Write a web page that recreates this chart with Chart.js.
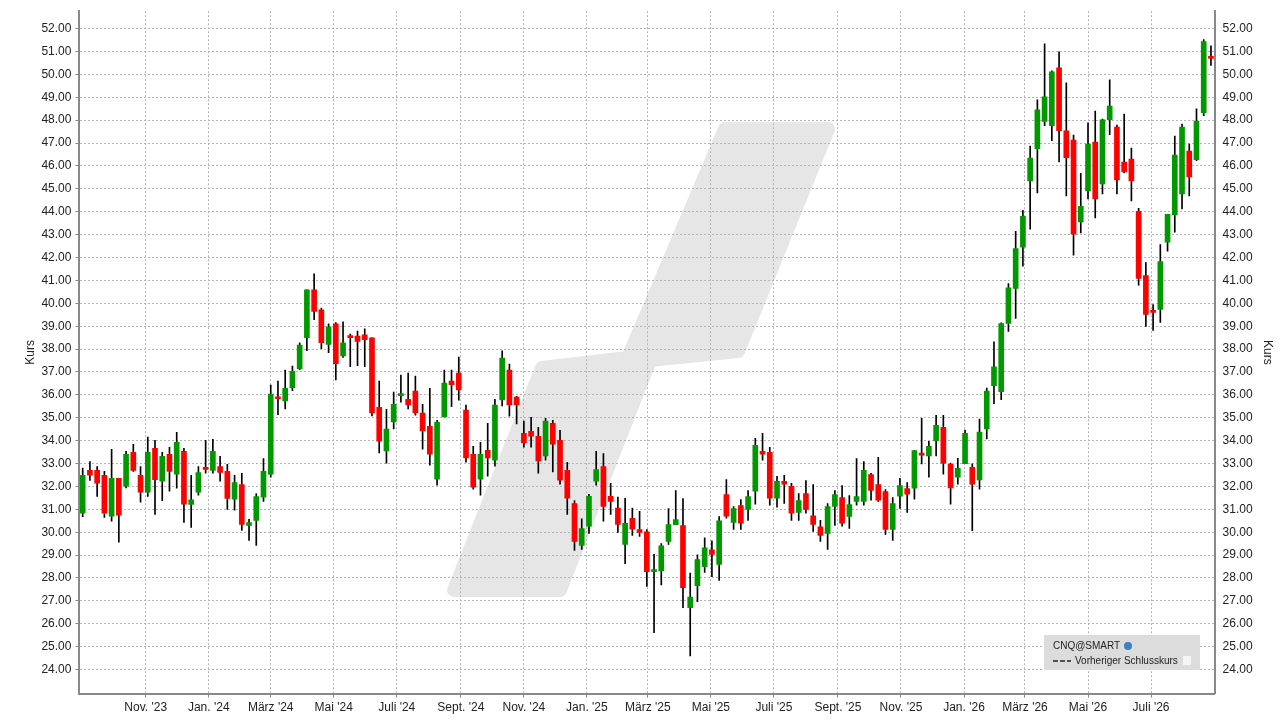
<!DOCTYPE html>
<html>
<head>
<meta charset="utf-8">
<script src="https://cdn.jsdelivr.net/npm/chart.js@4/dist/chart.umd.min.js"></script>
<style>
  html, body { margin: 0; padding: 0; background: #fff; }
  #wrap { width: 1281px; height: 720px; position: relative; }
</style>
</head>
<body>
<div id="wrap"><canvas id="chart"></canvas></div>
<script>
// weekly candles, first week starts around 2023-09-01
const startDate = '2023-09-01';

const opens = [30.83,32.70,32.70,32.48,30.70,32.35,32.01,33.49,32.48,31.75,
  33.66,32.23,33.40,32.54,33.53,31.21,31.75,32.83,32.70,32.87,
  32.66,31.44,32.08,30.30,30.52,31.53,32.54,35.90,35.74,36.31,
  37.14,38.50,40.59,39.72,38.20,39.10,37.70,38.59,38.57,38.62,
  38.49,35.46,33.55,34.82,35.97,35.81,36.16,35.20,34.63,32.32,
  35.04,36.60,36.95,35.33,33.40,32.32,33.58,33.15,35.78,37.08,
  35.90,34.32,34.41,34.19,33.33,34.76,34.01,32.70,31.25,29.42,
  30.26,32.23,32.87,31.57,31.05,29.47,30.61,30.11,30.02,28.28,
  28.31,29.60,30.33,30.29,26.70,27.67,28.50,29.23,28.59,31.64,
  30.43,31.16,31.00,31.79,33.53,33.49,31.49,32.22,32.00,30.87,
  31.69,30.72,30.24,29.95,31.13,31.51,30.69,31.35,31.35,32.52,
  32.08,31.78,30.12,31.57,31.91,31.92,33.44,33.33,34.00,34.58,
  32.96,32.41,32.99,32.83,32.28,34.51,36.40,36.14,39.12,40.65,
  42.45,45.35,46.75,47.94,47.76,50.29,47.53,47.13,43.55,44.91,
  47.04,45.22,48.02,47.70,46.17,46.30,44.02,41.21,39.68,39.73,
  42.67,43.86,44.78,46.65,46.27,48.33,50.77];

const highs = [32.80,33.09,32.87,32.66,33.62,32.35,33.53,33.84,32.87,34.16,
  34.01,33.49,33.71,34.36,33.66,32.48,32.87,34.01,34.06,33.31,
  32.96,32.48,32.57,30.56,31.69,33.22,36.43,36.60,37.08,37.26,
  38.27,40.59,41.29,39.79,39.10,39.16,39.19,38.66,38.79,38.88,
  38.49,36.60,35.37,36.12,36.86,36.95,36.82,35.59,36.29,34.89,
  37.08,37.08,37.65,35.55,33.75,33.93,34.76,35.81,37.92,37.35,
  35.94,34.85,35.02,34.58,34.98,34.89,34.45,33.05,31.38,30.59,
  31.66,33.53,33.44,32.14,31.53,31.48,31.05,30.91,30.11,29.03,
  29.50,31.03,31.82,31.47,28.22,29.01,29.76,29.62,30.68,32.30,
  31.12,31.43,31.82,34.10,34.32,33.71,32.44,32.48,32.13,31.69,
  32.26,32.08,30.52,31.25,31.82,32.04,31.60,33.22,33.09,32.57,
  33.27,31.86,31.51,32.35,32.17,33.57,34.98,33.97,35.11,35.11,
  33.02,33.23,34.46,32.99,34.94,36.30,38.32,39.15,40.86,43.14,
  44.06,46.87,48.89,51.34,50.16,50.99,49.63,47.35,45.68,47.88,
  48.40,48.05,49.76,47.79,48.27,46.78,44.15,41.78,39.94,42.57,
  43.89,47.31,47.83,46.96,48.49,51.52,51.25];

const lows = [30.68,32.26,31.56,30.65,30.48,29.56,31.93,32.66,31.31,31.56,
  30.78,31.38,31.79,31.92,30.43,30.21,31.62,32.58,32.58,32.23,
  31.00,30.96,30.08,29.64,29.42,31.35,32.41,35.13,35.39,36.18,
  37.10,37.93,39.29,38.02,37.84,36.65,37.64,37.23,37.27,37.23,
  35.08,33.46,33.02,34.51,35.68,35.39,35.11,33.63,32.93,32.06,
  35.04,35.48,35.77,33.06,31.88,31.62,32.45,32.89,35.52,35.07,
  34.73,33.72,33.72,32.58,33.15,32.63,32.10,30.78,29.20,29.25,
  29.95,32.05,30.48,30.78,29.99,28.63,29.86,29.82,27.63,25.61,
  27.70,29.47,30.33,26.70,24.60,26.97,28.24,28.06,27.89,30.61,
  30.12,30.12,30.52,31.22,33.15,31.18,31.09,31.26,30.52,30.52,
  30.83,30.04,29.60,29.25,30.30,30.26,30.17,31.18,31.18,31.40,
  31.35,29.90,29.64,31.04,30.87,31.44,32.98,32.40,33.33,32.54,
  31.22,32.10,32.99,30.07,31.88,34.08,35.61,35.79,38.77,39.34,
  41.62,43.24,44.82,47.76,47.10,46.18,44.69,42.10,43.07,44.56,
  43.73,44.78,47.37,44.78,45.70,44.47,40.79,38.99,38.81,39.16,
  42.28,43.11,44.12,44.69,46.23,48.20,50.39];

const closes = [32.48,32.49,32.14,30.83,32.35,30.74,33.40,32.70,31.75,33.49,
  32.30,33.31,32.66,33.93,31.22,31.42,32.61,32.74,33.53,32.61,
  31.48,32.17,30.34,30.42,31.56,32.66,36.03,35.83,36.29,37.03,
  38.18,40.59,39.64,38.28,38.97,37.36,38.27,38.50,38.33,38.41,
  35.21,33.98,34.50,35.59,36.03,35.56,35.21,34.42,33.41,34.80,
  36.51,36.44,36.22,33.24,31.97,33.40,33.24,35.55,37.61,35.56,
  35.56,33.90,34.20,33.11,34.85,33.85,32.27,31.49,29.60,30.16,
  31.57,32.74,31.13,31.35,30.34,30.39,30.13,29.99,28.28,28.36,
  29.41,30.33,30.55,27.58,27.17,28.80,29.32,29.03,30.50,30.70,
  31.03,30.39,31.56,33.79,33.41,31.49,32.22,32.10,30.83,31.38,
  31.00,30.34,29.86,31.12,31.64,30.39,31.21,31.56,32.70,31.83,
  31.40,30.12,31.25,32.04,31.66,33.57,33.37,33.75,34.67,33.02,
  31.93,32.79,34.32,32.10,34.37,36.17,37.22,39.11,40.68,42.39,
  43.80,46.34,48.45,49.02,50.11,47.54,46.36,43.02,44.24,46.96,
  44.56,48.01,48.62,45.39,45.74,45.35,41.09,39.51,39.60,41.82,
  43.89,46.47,47.70,45.52,47.96,51.43,50.70];

const tickLabels = ["Nov. '23","Jan. '24","März '24","Mai '24","Juli '24","Sept. '24",
  "Nov. '24","Jan. '25","März '25","Mai '25","Juli '25","Sept. '25",
  "Nov. '25","Jan. '26","März '26","Mai '26","Juli '26"];
const tickDates = ['2023-11-01','2024-01-01','2024-03-01','2024-05-01','2024-07-01','2024-09-01',
  '2024-11-01','2025-01-01','2025-03-01','2025-05-01','2025-07-01','2025-09-01',
  '2025-11-01','2026-01-01','2026-03-01','2026-05-01','2026-07-01'];
const yTicks = [24,25,26,27,28,29,30,31,32,33,34,35,36,37,38,39,40,41,42,43,44,45,46,47,48,49,50,51,52];

const UP = '#009a00', DOWN = '#ff0000';
const weekOf = d => (Date.parse(d) - Date.parse(startDate)) / (7 * 86400000);
const tickPos = tickDates.map(weekOf);

const wicks = opens.map((o, i) => ({x: i, y: [lows[i], highs[i]]}));
const bodies = opens.map((o, i) => ({x: i, y: [o, closes[i]]}));
const bodyColors = opens.map((o, i) => closes[i] >= o ? UP : DOWN);

const FONT = {family: "'Liberation Sans', Arial, sans-serif", size: 12};

const yAxis = (pos) => ({
  type: 'linear', position: pos, min: 22.95, max: 52.76,
  afterBuildTicks: ax => { ax.ticks = yTicks.map(v => ({value: v})); },
  ticks: {font: FONT, color: '#222', padding: 4, callback: v => Number(v).toFixed(2)},
  grid: {display: pos === 'left', color: '#b4b4b4', tickLength: 4, tickColor: '#888'},
  border: {display: true, color: '#888', width: 2, dash: [2, 2]},
  title: {display: true, text: 'Kurs', font: FONT, color: '#222',
    padding: pos === 'left' ? {top: 0, bottom: 0} : {top: 0, bottom: 4}}
});

const decor = {
  id: 'decor',
  beforeDraw(chart) {
    const ctx = chart.ctx;
    ctx.save();
    ctx.fillStyle = '#e6e6e6';
    ctx.strokeStyle = '#e6e6e6';
    ctx.lineWidth = 14;
    ctx.lineJoin = 'round';
    ctx.beginPath();
    ctx.moveTo(454, 590); ctx.lineTo(542, 368); ctx.lineTo(628, 358);
    ctx.lineTo(725, 129); ctx.lineTo(828, 129); ctx.lineTo(738, 351);
    ctx.lineTo(650, 360); ctx.lineTo(560, 590); ctx.closePath();
    ctx.fill(); ctx.stroke();
    ctx.restore();
  },
  afterDraw(chart) {
    const ctx = chart.ctx;
    ctx.save();
    ctx.fillStyle = '#dcdcdc';
    ctx.fillRect(1044, 635, 156, 35);
    ctx.font = "10px 'Liberation Sans', Arial, sans-serif";
    ctx.fillStyle = '#222';
    ctx.textBaseline = 'middle';
    ctx.fillText('CNQ@SMART', 1053, 646);
    ctx.fillStyle = '#3b7fc4';
    ctx.beginPath(); ctx.arc(1128, 646, 4, 0, Math.PI * 2); ctx.fill();
    ctx.strokeStyle = '#222'; ctx.lineWidth = 1.5; ctx.setLineDash([5, 2]);
    ctx.beginPath(); ctx.moveTo(1053, 661); ctx.lineTo(1071, 661); ctx.stroke();
    ctx.setLineDash([]);
    ctx.fillStyle = '#222';
    ctx.fillText('Vorheriger Schlusskurs', 1075, 661);
    ctx.fillStyle = '#f4f4f8';
    ctx.fillRect(1183, 656, 8, 9);
    ctx.restore();
  }
};

new Chart(document.getElementById('chart'), {
  type: 'bar',
  data: {
    datasets: [
      {data: wicks, backgroundColor: '#000', barThickness: 1, grouped: false, order: 2},
      {data: bodies, backgroundColor: bodyColors, barThickness: 5, minBarLength: 2, grouped: false, order: 1}
    ]
  },
  options: {
    responsive: true,
    maintainAspectRatio: false,
    animation: false,
    layout: {padding: {left: 23, right: 6, top: 7, bottom: 2}},
    plugins: {legend: {display: false}, tooltip: {enabled: false}},
    scales: {
      x: {
        type: 'linear', min: -0.45, max: 156.5, offset: false,
        afterBuildTicks: ax => { ax.ticks = tickPos.map(v => ({value: v})); },
        ticks: {font: FONT, color: '#222', autoSkip: false, maxRotation: 0,
          callback: (v, i) => tickLabels[i]},
        grid: {offset: false, color: '#b4b4b4', tickLength: 4, tickColor: '#888'},
        border: {display: true, color: '#888', width: 2, dash: [2, 2]}
      },
      y: yAxis('left'),
      y2: yAxis('right')
    }
  },
  plugins: [decor]
});
</script>
</body>
</html>
